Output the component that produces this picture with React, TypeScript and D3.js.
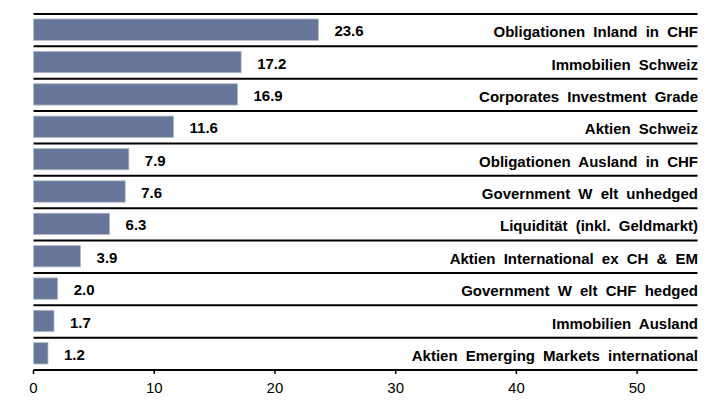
import React from "react";
import * as d3 from "d3";

const categories = [
  "Obligationen Inland in CHF",
  "Immobilien Schweiz",
  "Corporates Investment Grade",
  "Aktien Schweiz",
  "Obligationen Ausland in CHF",
  "Government W elt unhedged",
  "Liquidität (inkl. Geldmarkt)",
  "Aktien International ex CH & EM",
  "Government W elt CHF hedged",
  "Immobilien Ausland",
  "Aktien Emerging Markets international",
];
const values = [23.6, 17.2, 16.9, 11.6, 7.9, 7.6, 6.3, 3.9, 2.0, 1.7, 1.2];
const tickValues = [0, 10, 20, 30, 40, 50];

const W = 724;
const H = 401;
const left = 33.5;
const right = 697.5;
const top = 14;
const bottom = 370;

export default function App() {
  const x = d3.scaleLinear().domain([0, 55]).range([left, right]);
  const y = d3.scaleBand().domain(categories).range([top, bottom]).padding(0);
  const bw = y.bandwidth();
  const font = "'Liberation Sans', Arial, sans-serif";
  return (
    <svg width={W} height={H} style={{ position: "absolute", left: 0, top: 0 }}>
      <rect width={W} height={H} fill="#fff" />
      {categories.map((c, i) => {
        const y0 = y(c)!;
        return (
          <g key={c}>
            <line x1={left} x2={right} y1={y0} y2={y0} stroke="#000" strokeWidth={2} />
            <rect
              x={x(0)}
              y={y0 + 5}
              width={x(values[i]) - x(0)}
              height={bw - 11}
              fill="#67769a"
              stroke="#b4bccd"
              strokeWidth={0.8}
            />
            <text
              x={x(values[i]) + 16}
              y={y0 + 17}
              dy="0.35em"
              fontFamily={font}
              fontWeight="bold"
              fontSize={15}
              fill="#000"
            >
              {values[i].toFixed(1)}
            </text>
            <text
              x={right + 0.5}
              y={y0 + 18}
              dy="0.35em"
              textAnchor="end"
              fontFamily={font}
              fontWeight="bold"
              fontSize={15}
              wordSpacing={4}
              fill="#000"
            >
              {c}
            </text>
          </g>
        );
      })}
      <line x1={left} x2={right} y1={bottom} y2={bottom} stroke="#000" strokeWidth={2} />
      {tickValues.map((t) => (
        <g key={t}>
          <line x1={x(t)} x2={x(t)} y1={bottom} y2={bottom + 4} stroke="#000" strokeWidth={1.5} />
          <text
            x={x(t)}
            y={bottom + 17.5}
            dy="0.35em"
            textAnchor="middle"
            fontFamily={font}
            fontSize={15}
            fill="#000"
          >
            {t}
          </text>
        </g>
      ))}
    </svg>
  );
}
